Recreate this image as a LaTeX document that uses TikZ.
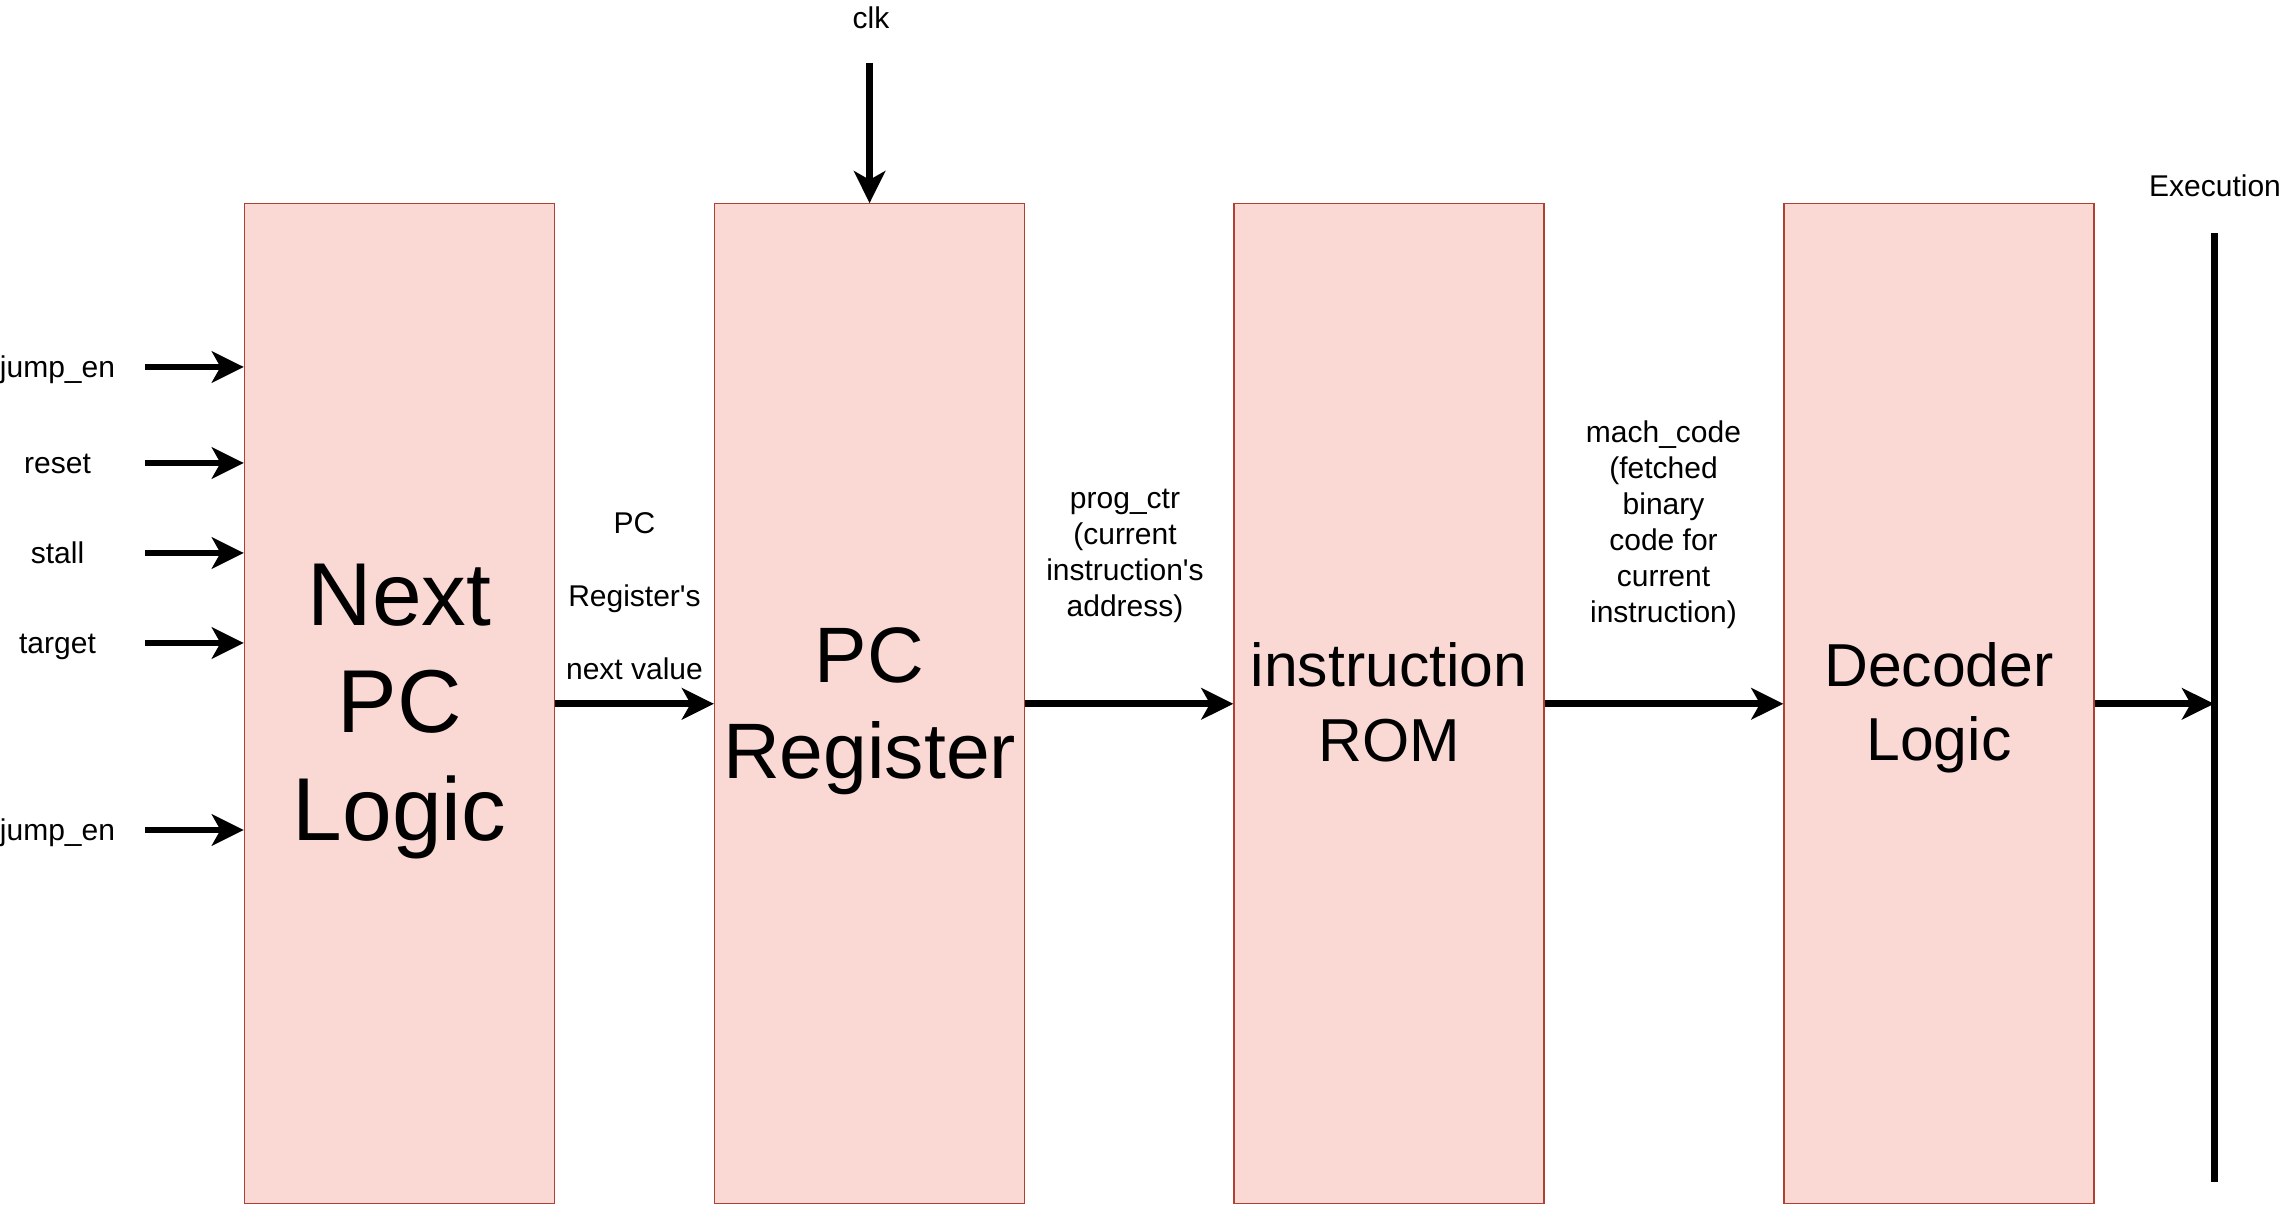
\documentclass[tikz,border=0pt]{standalone}
\usepackage{fontspec}
\setmainfont{Liberation Sans}
\usepackage{xcolor}
\usepackage{tikz}
\usetikzlibrary{positioning,arrows.meta}
\definecolor{blockfill}{HTML}{FAD9D5}
\definecolor{blockline}{HTML}{AE4132}

\tikzset{
  block/.style={draw=blockline, fill=blockfill, line width=0.4pt, minimum width=93pt,
    minimum height=300pt, inner sep=0pt},
  blocktext/.style={align=center, inner sep=0pt},
  signal/.style={line width=2pt, -{Stealth[length=9.6pt, width=9.4pt, inset=2.6pt]}},
  sigtext/.style={font=\fontsize{9}{10.8}\selectfont, align=center, inner sep=0pt}
}

\begin{document}
\begin{tikzpicture}[x=0.3pt, y=-0.3pt]
  \useasboundingbox (0,0) rectangle (2282,1205);

  % the four pipeline blocks
  \node[block] (nextpc) at (399.5,703.8) {};
  \node[block] (pcreg) at (869.6,703.8) {};
  \node[block] (irom) at (1389,703.8) {};
  \node[block] (decoder) at (1939,703.8) {};
  \node[blocktext, font=\fontsize{26.8}{32.2}\selectfont] (nextpctext) at ([yshift=-2.25pt]nextpc.center) {Next\\PC\\Logic};
  \node[blocktext, font=\fontsize{23.6}{28.7}\selectfont] (pcregtext) at ([yshift=-2.3pt]pcreg.center) {PC\\Register};
  \node[blocktext, font=\fontsize{18.2}{22.4}\selectfont] (iromtext) at ([yshift=0.5pt]irom.center) {instruction\\ROM};
  \node[blocktext, font=\fontsize{18.2}{22.4}\selectfont] (decodertext) at ([yshift=-1.2pt]decoder.center) {Decoder\\Logic};

  % inputs of the next PC logic
  \foreach \name/\ypos in {jump_en/367, reset/463, stall/553, target/643, jump_en/830} {
    \node[sigtext, anchor=mid] at (57.5,\ypos+2) {\detokenize\expandafter{\name}};
    \coordinate (in\ypos) at (145,\ypos);
    \draw[signal] (in\ypos) -- (in\ypos -| nextpc.west);
  }

  % clock
  \node[sigtext, anchor=base] (clktext) at (871,28.5) {clk};
  \coordinate (clk) at (869.6,63);
  \draw[signal] (clk) -- (pcreg.north);

  % execution bus
  \node[sigtext, anchor=base] (exectext) at (2215,197) {Execution};
  \coordinate (exectop) at (2214,233);
  \coordinate (execbot) at (2214,1182);
  \draw[line width=2.1pt] (exectop) -- (execbot);

  % datapath
  \draw[signal] (nextpc.east) -- (pcreg.west);
  \draw[signal] (pcreg.east) -- (irom.west);
  \draw[signal] (irom.east) -- (decoder.west);
  \draw[signal] (decoder.east) -- (decoder.east -| exectop);

  \node[sigtext, font=\fontsize{9}{21.9}\selectfont] (nextval) at (634.5,596) {PC\\Register\textquotesingle s\\next value};
  \node[sigtext] (progctr) at (1125,556) {prog\_ctr\\(current\\instruction\textquotesingle s\\address)};
  \node[sigtext] (machcode) at (1663.5,525) {mach\_code\\(fetched\\binary\\code for\\current\\instruction)};
\end{tikzpicture}
\end{document}
